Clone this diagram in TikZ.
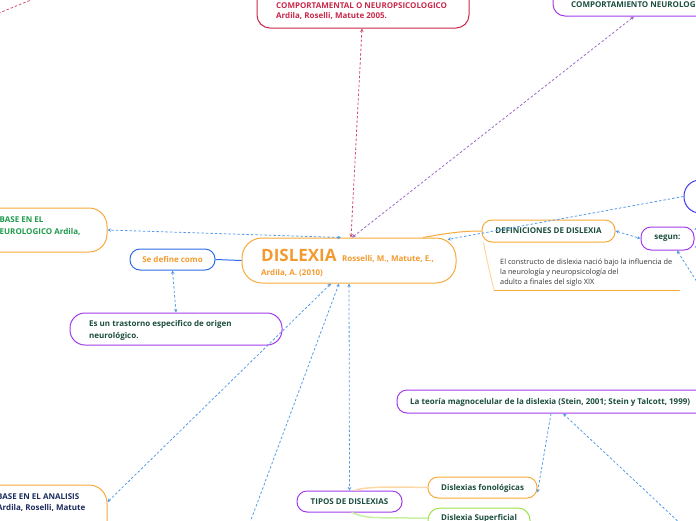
\documentclass[tikz,border=0pt]{standalone}
\usepackage{fontspec}
\setmainfont{Open Sans}
\usetikzlibrary{arrows.meta,calc}
\definecolor{cOrange}{HTML}{F7A93A}
\definecolor{cOrangeT}{HTML}{F39A2E}
\definecolor{cRed}{HTML}{C8284A}
\definecolor{cRedL}{HTML}{D0506A}
\definecolor{cPurple}{HTML}{A23CEB}
\definecolor{cPurpleL}{HTML}{9C6ACB}
\definecolor{cBlue}{HTML}{2F6BE6}
\definecolor{cDeepBlue}{HTML}{3A3AF2}
\definecolor{cLink}{HTML}{559BE8}
\definecolor{cDark}{HTML}{1B4D3E}
\definecolor{cGreenT}{HTML}{1E9A4A}
\definecolor{cNavy}{HTML}{1C2B5E}
\definecolor{cLime}{HTML}{9BE34A}
\definecolor{cLimeL}{HTML}{C9F0A2}
\definecolor{cOrangeL}{HTML}{FDD7A6}
\definecolor{cNote}{HTML}{333333}
\begin{document}
\begin{tikzpicture}[x=1pt,y=-1pt,
  box/.style={draw, line width=1pt, inner sep=0pt},
  lnk/.style={draw=cLink, line width=0.8pt, dash pattern=on 2.5pt off 2pt},
  tipb/.style={{Stealth[length=3.5pt,width=3.5pt]}-{Stealth[length=3.5pt,width=3.5pt]}},
  tipe/.style={-{Stealth[length=3.5pt,width=3.5pt]}},
  txt/.style={font=\bfseries\fontsize{8}{12}\selectfont, text=cDark, inner sep=0pt, align=left},
  note/.style={font=\fontsize{7.3}{10}\selectfont, text=cNote, inner sep=0pt, align=left}
]
\useasboundingbox (0,0) rectangle (696,520);
% boxes
\node[box, draw=cRed, rounded corners=13pt, minimum width=212pt, minimum height=48pt] (red) at (363,4) {};
\node[box, draw=cPurple, rounded corners=12pt, minimum width=207pt, minimum height=36pt] (pTop) at (656.5,-2) {};
\node[box, draw=cOrange, rounded corners=18pt, minimum width=227pt, minimum height=44pt] (leftG) at (-6.5,230) {};
\node[box, draw=cBlue, rounded corners=10pt, minimum width=85pt, minimum height=21pt] (seD) at (172.5,259.5) {};
\node[box, draw=cPurple, rounded corners=15pt, minimum width=212pt, minimum height=32pt] (tras) at (176,329) {};
\node[box, draw=cOrange, rounded corners=20pt, minimum width=214pt, minimum height=45pt] (disl) at (349,260.5) {};
\node[box, draw=cOrange, rounded corners=10pt, minimum width=133pt, minimum height=22pt] (def) at (548.5,231) {};
\node[box, draw=cPurple, rounded corners=10pt, minimum width=53pt, minimum height=23pt] (segun) at (667.5,238.5) {};
\node[box, draw=cDeepBlue, rounded corners=16pt, minimum width=76pt, minimum height=33pt] (bCirc) at (722,196.5) {};
\node[box, draw=cPurple, rounded corners=10pt, minimum width=363pt, minimum height=23pt] (magno) at (578.5,401.5) {};
\node[box, draw=cOrange, rounded corners=10pt, minimum width=109pt, minimum height=21pt] (fono) at (482.5,487.5) {};
\node[box, draw=cLime, rounded corners=12pt, minimum width=102pt, minimum height=32pt] (superf) at (479,524) {};
\node[box, draw=cPurple, rounded corners=10pt, minimum width=105pt, minimum height=21pt] (tipos) at (349.5,501.5) {};
\node[box, draw=cOrange, rounded corners=18pt, minimum width=227pt, minimum height=75pt] (botL) at (-6.5,522.5) {};
% texts
\node[txt, text=cRed, anchor=west, font=\bfseries\fontsize{8}{10}\selectfont] (redT) at (276,11) {COMPORTAMENTAL O NEUROPSICOLOGICO\\Ardila, Roselli, Matute 2005.};
\node[txt, anchor=west] (pTopT) at (571,5) {COMPORTAMIENTO NEUROLOGICO};
\node[txt, text=cGreenT, anchor=west] (leftGT) at (-7,226) {\phantom{N}BASE EN EL\\NEUROLOGICO Ardila,};
\node[txt, text=cOrangeT] (seDT) at (seD) {Se define como};
\node[txt, anchor=west] (trasT) at (89,330) {Es un trastorno especifico de origen\\neurológico.};
\node[inner sep=0pt, anchor=base west, text=cOrangeT, font=\bfseries\fontsize{17}{17}\selectfont] (dislT) at (261,261) {DISLEXIA};
\node[inner sep=0pt, anchor=base west, text=cOrangeT, font=\bfseries\fontsize{8}{10}\selectfont] (dislT2) at (342,261) {Rosselli, M., Matute, E.,};
\node[inner sep=0pt, anchor=base west, text=cOrangeT, font=\bfseries\fontsize{8}{10}\selectfont] (dislT3) at (261,275) {Ardila, A. (2010)};
\node[txt] (defT) at (def) {DEFINICIONES DE DISLEXIA};
\node[txt] (segunT) at (segun) {segun:};
\node[note, anchor=west] (noteT) at (500,273) {El constructo de dislexia nació bajo la influencia de\\la neurología y neuropsicología del\\adulto a finales del siglo XIX};
\node[txt, anchor=west] (magnoT) at (410,402) {La teoría magnocelular de la dislexia (Stein, 2001; Stein y Talcott, 1999)};
\node[txt, anchor=west] (fonoT) at (441,488) {Dislexias fonológicas};
\node[txt, anchor=west] (superfT) at (441,518) {Dislexia Superficial};
\node[txt] (tiposT) at (tipos) {TIPOS DE DISLEXIAS};
\node[txt, text=cNavy, anchor=west, font=\bfseries\fontsize{8}{11}\selectfont] (botLT) at (-3,502.5) {BASE EN EL ANALISIS\\Ardila, Roselli, Matute};
% free ends
\coordinate (offA) at (245,536);
\coordinate (offB) at (730,216);
\coordinate (offC) at (730,258);
\coordinate (offD) at (706,296);
\coordinate (offE) at (684,527);
\coordinate (offF) at (-6,15);
\coordinate (offG) at (36,-2);
% connectors
\draw[lnk, draw=cRedL, tipb] ([xshift=2pt]disl.north) -- ([xshift=-1pt]red.south);
\draw[lnk, draw=cPurpleL, tipb] ([xshift=3pt]disl.north) -- ([xshift=-22.5pt]pTop.south);
\draw[lnk, tipb] ([xshift=-8pt]disl.north) -- (leftG.east);
\draw[draw=cBlue, line width=1pt] (seD.east) -- (disl.west);
\draw[lnk, tipb] (seD.south) -- (tras.north);
\draw[lnk, tipb] ([xshift=-18pt]disl.south) -- ([yshift=20.5pt]botL.east);
\draw[lnk, tipe] (offA) -- ([xshift=-10pt]disl.south);
\draw[lnk, tipb] (disl.south) -- (tipos.north);
\draw[draw=cOrange, line width=1pt] ([xshift=74pt]disl.north) .. controls (448,233) and (462,231) .. (def.west);
\draw[lnk, tipe] (bCirc.west) -- ([xshift=-9pt,yshift=-2pt]disl.north east);
\draw[lnk, tipb] (def.east) -- (segun.west);
\draw[lnk, tipe] (offB) -- ([yshift=9pt]segun.east);
\draw[lnk, tipe] (offC) -- ([yshift=-8pt]segun.east);
\draw[lnk, tipe] (offD) -- ([xshift=9.5pt]segun.south);
\draw[lnk, tipe] ([xshift=-27.5pt]magno.south) -- ([yshift=-5pt]fono.east);
\draw[lnk, tipe] (offE) -- ([xshift=-15.5pt]magno.south);
\draw[draw=cOrangeL, line width=1.5pt] ([xshift=5pt]tipos.north) .. controls (366,486) and (400,487) .. (fono.west);
\draw[draw=cLimeL, line width=1.5pt] ([xshift=2pt]tipos.south) .. controls (366,518) .. ([yshift=6pt]superf.west);
\draw[lnk, draw=cRedL] (offF) -- (offG);
% note lines
\coordinate (noteEnd) at (680,290);
\coordinate (noteStart) at (494,290);
\draw[draw=cOrangeL, line width=1pt] ([xshift=2pt]def.south west) .. controls (488,265) .. (noteStart);
\draw[draw=cOrange, line width=1pt] (noteStart) -- (noteEnd);
\end{tikzpicture}
\end{document}
